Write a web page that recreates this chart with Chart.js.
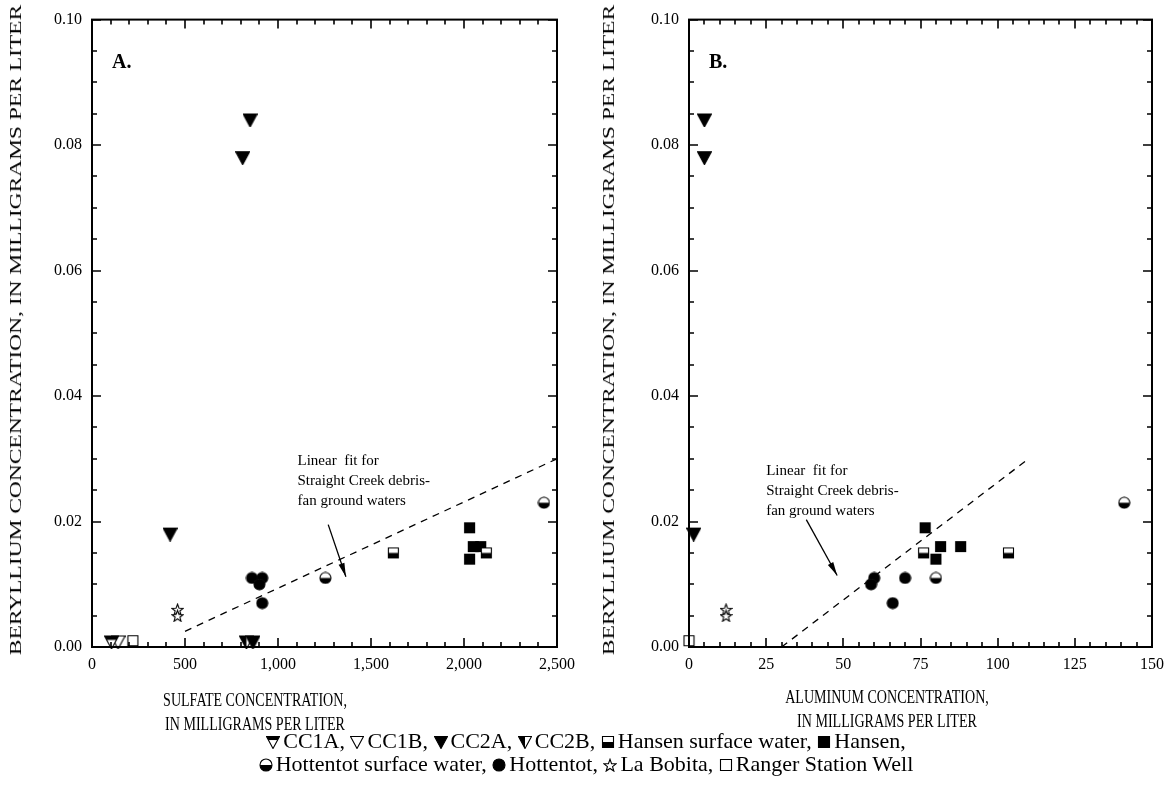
<!DOCTYPE html>
<html>
<head>
<meta charset="utf-8">
<script src="https://cdn.jsdelivr.net/npm/chart.js@4.4.1/dist/chart.umd.min.js"></script>
<style>
  html, body { margin: 0; padding: 0; background: #fff; }
  body { width: 1172px; height: 810px; position: relative; overflow: hidden; font-family: 'Liberation Serif', 'Times New Roman', serif; color: #000; }
  .wrap { position: absolute; top: 0; height: 690px; }
  #wrapA { left: 0; width: 585px; }
  #wrapB { left: 585px; width: 587px; }
  .ytitle { position: absolute; white-space: nowrap; font-size: 17px; transform: translate(-50%, -50%) rotate(-90deg) scaleX(1.38); }
  .xtitle { position: absolute; text-align: center; font-size: 18px; line-height: 24px; transform: translateX(-50%) scaleX(0.78); white-space: nowrap; }
  #legend { position: absolute; left: 0; width: 1172px; top: 729px; text-align: center; font-size: 22px; line-height: 23px; white-space: nowrap; }
  #legend canvas { vertical-align: -1px; margin-right: 3px; }
</style>
</head>
<body>
<div class="wrap" id="wrapA"><canvas id="chartA" width="585" height="690"></canvas></div>
<div class="wrap" id="wrapB"><canvas id="chartB" width="587" height="690"></canvas></div>

<div class="ytitle" style="left:16px; top:330px;">BERYLLIUM CONCENTRATION, IN MILLIGRAMS PER LITER</div>
<div class="ytitle" style="left:609px; top:330px;">BERYLLIUM CONCENTRATION, IN MILLIGRAMS PER LITER</div>
<div class="xtitle" style="left:255px; top:688px;">SULFATE CONCENTRATION,<br>IN MILLIGRAMS PER LITER</div>
<div class="xtitle" style="left:887px; top:685px;">ALUMINUM CONCENTRATION,<br>IN MILLIGRAMS PER LITER</div>
<div id="legend"></div>

<script>
// series, in legend order
const seriesNames = ['CC1A', 'CC1B', 'CC2A', 'CC2B', 'Hansen surface water', 'Hansen',
  'Hottentot surface water', 'Hottentot', 'La Bobita', 'Ranger Station Well'];
const seriesSymbols = ['triTop', 'triOpen', 'triFill', 'triHalf', 'sqHalf', 'sqFill',
  'circHalf', 'circFill', 'star', 'sqOpen'];

// beryllium, sulfate and aluminum, mg/L (null = not plotted)
const cc1aBe = [0.0008], cc1aSulfate = [105], cc1aAl = [null];
const cc1bBe = [0.0008], cc1bSulfate = [140], cc1bAl = [null];
const cc2aBe = [0.084, 0.078, 0.018, 0.0008], cc2aSulfate = [850, 810, 420, 865], cc2aAl = [5, 5, 1.5, null];
const cc2bBe = [0.0008], cc2bSulfate = [830], cc2bAl = [null];
const hansenSwBe = [0.015, 0.015], hansenSwSulfate = [1620, 2120], hansenSwAl = [76, 103.5];
const hansenBe = [0.019, 0.016, 0.016, 0.014], hansenSulfate = [2030, 2050, 2090, 2030], hansenAl = [76.5, 81.5, 88, 80];
const hottSwBe = [0.011, 0.023], hottSwSulfate = [1255, 2430], hottSwAl = [80, 141];
const hottBe = [0.011, 0.011, 0.010, 0.007], hottSulfate = [860, 915, 900, 915], hottAl = [60, 70, 59, 66];
const bobitaBe = [0.006, 0.005], bobitaSulfate = [460, 460], bobitaAl = [12, 12];
const rangerBe = [0.001], rangerSulfate = [220], rangerAl = [0];

const beValues = [cc1aBe, cc1bBe, cc2aBe, cc2bBe, hansenSwBe, hansenBe, hottSwBe, hottBe, bobitaBe, rangerBe];
const sulfateValues = [cc1aSulfate, cc1bSulfate, cc2aSulfate, cc2bSulfate, hansenSwSulfate, hansenSulfate, hottSwSulfate, hottSulfate, bobitaSulfate, rangerSulfate];
const aluminumValues = [cc1aAl, cc1bAl, cc2aAl, cc2bAl, hansenSwAl, hansenAl, hottSwAl, hottAl, bobitaAl, rangerAl];

// linear fits for Straight Creek debris-fan ground waters
const fitSulfate = [500, 2500], fitSulfateBe = [0.0025, 0.030];
const fitAl = [30, 110], fitAlBe = [0, 0.030];

// annotation arrows [x, y] in data units: tail then head
const arrowA = [[1270, 0.0195], [1365, 0.0112]];
const arrowB = [[38, 0.0203], [48, 0.0114]];
const noteLines = ['Linear  fit for', 'Straight Creek debris-', 'fan ground waters'];

const FONT = "'Liberation Serif', 'Times New Roman', serif";

function makeSymbol(kind, size) {
  const s = size || 14;
  const c = document.createElement('canvas');
  c.width = s; c.height = s;
  const g = c.getContext('2d');
  g.strokeStyle = '#000';
  g.lineWidth = 1.1;
  const m = s / 2;
  let path;
  if (kind.startsWith('tri')) {
    path = () => { g.beginPath(); g.moveTo(0.5, 1.5); g.lineTo(s - 0.5, 1.5); g.lineTo(m, s - 0.5); g.closePath(); };
  } else if (kind.startsWith('sq')) {
    path = () => { g.beginPath(); g.rect(1.5, 1.5, s - 3, s - 3); };
  } else if (kind.startsWith('circ')) {
    path = () => { g.beginPath(); g.arc(m, m, m - 1, 0, Math.PI * 2); };
  } else {
    path = () => {
      g.beginPath();
      for (let i = 0; i < 10; i++) {
        const r = i % 2 ? (m - 1) * 0.45 : m - 0.5;
        const a = -Math.PI / 2 + i * Math.PI / 5;
        g.lineTo(m + r * Math.cos(a), m + 0.8 + r * Math.sin(a));
      }
      g.closePath();
    };
  }
  g.fillStyle = '#fff';
  path(); g.fill();
  g.fillStyle = '#000';
  if (kind.endsWith('Fill')) { path(); g.fill(); }
  if (kind === 'triTop') { g.save(); path(); g.clip(); g.fillRect(0, 0, s, s * 0.36); g.restore(); }
  if (kind === 'triHalf') { g.save(); path(); g.clip(); g.fillRect(0, 0, m, s); g.restore(); }
  if (kind === 'sqHalf' || kind === 'circHalf') { g.save(); path(); g.clip(); g.fillRect(0, m, s, s); g.restore(); }
  path(); g.stroke();
  return c;
}

const frameTicks = {
  id: 'frameTicks',
  afterDatasetsDraw(chart) {
    const { ctx, chartArea: a, scales: { x, y } } = chart;
    ctx.save();
    ctx.strokeStyle = '#000';
    ctx.lineWidth = 2;
    ctx.strokeRect(a.left, a.top, a.right - a.left, a.bottom - a.top);
    ctx.lineWidth = 1.6;
    ctx.beginPath();
    x.ticks.forEach((t) => {
      const px = Math.round(x.getPixelForValue(t.value));
      const len = t.label ? 9 : 5;
      ctx.moveTo(px, a.bottom); ctx.lineTo(px, a.bottom - len);
      ctx.moveTo(px, a.top); ctx.lineTo(px, a.top + len);
    });
    y.ticks.forEach((t) => {
      const py = Math.round(y.getPixelForValue(t.value));
      const len = t.label ? 9 : 5;
      ctx.moveTo(a.left, py); ctx.lineTo(a.left + len, py);
      ctx.moveTo(a.right, py); ctx.lineTo(a.right - len, py);
    });
    ctx.stroke();
    ctx.restore();
  }
};

const notes = {
  id: 'notes',
  afterDraw(chart, args, opts) {
    const { ctx, scales: { x, y } } = chart;
    ctx.save();
    ctx.fillStyle = '#000';
    ctx.strokeStyle = '#000';
    // panel tag
    ctx.font = 'bold 20px ' + FONT;
    ctx.textBaseline = 'middle';
    ctx.fillText(opts.tag, chart.chartArea.left + opts.tagDx, 63);
    // note text
    ctx.font = '15px ' + FONT;
    const tx = x.getPixelForValue(opts.noteAt[0]);
    const ty = y.getPixelForValue(opts.noteAt[1]);
    noteLines.forEach((line, i) => ctx.fillText(line, tx, ty + i * 20));
    // arrow
    const [p0, p1] = opts.arrow.map(([vx, vy]) => [x.getPixelForValue(vx), y.getPixelForValue(vy)]);
    ctx.lineWidth = 1.3;
    ctx.beginPath(); ctx.moveTo(p0[0], p0[1]); ctx.lineTo(p1[0], p1[1]); ctx.stroke();
    const ang = Math.atan2(p1[1] - p0[1], p1[0] - p0[0]);
    ctx.beginPath();
    ctx.moveTo(p1[0], p1[1]);
    ctx.lineTo(p1[0] - 14 * Math.cos(ang - 0.22), p1[1] - 14 * Math.sin(ang - 0.22));
    ctx.lineTo(p1[0] - 14 * Math.cos(ang + 0.22), p1[1] - 14 * Math.sin(ang + 0.22));
    ctx.closePath(); ctx.fill();
    ctx.restore();
  }
};

function buildDatasets(xValues, fitX, fitY) {
  const sets = seriesNames.map((name, i) => ({
    label: name,
    data: xValues[i].map((v, j) => ({ x: v, y: beValues[i][j] })).filter((p) => p.x !== null),
    pointStyle: makeSymbol(seriesSymbols[i], seriesSymbols[i].startsWith('tri') ? 15 : 13),
    showLine: false,
    clip: false
  }));
  sets.push({
    label: 'Linear fit',
    data: fitX.map((v, j) => ({ x: v, y: fitY[j] })),
    showLine: true,
    borderColor: '#000',
    borderWidth: 1.3,
    borderDash: [7, 6],
    pointRadius: 0,
    clip: false
  });
  return sets;
}

function makeChart(canvasId, datasets, xMax, xStep, xMajor, yAxisWidth, rightPad, noteOpts) {
  return new Chart(document.getElementById(canvasId), {
    type: 'scatter',
    data: { datasets },
    options: {
      responsive: false,
      animation: false,
      events: [],
      layout: { padding: { left: 0, top: 17, right: rightPad, bottom: 0 } },
      plugins: { legend: { display: false }, tooltip: { enabled: false }, notes: noteOpts },
      scales: {
        x: {
          type: 'linear', min: 0, max: xMax,
          grid: { display: false, drawTicks: false },
          border: { display: false },
          ticks: {
            stepSize: xStep, autoSkip: false, maxRotation: 0, padding: 8, color: '#000',
            font: { family: FONT, size: 16 },
            callback: (v) => (Math.abs(v / xMajor - Math.round(v / xMajor)) < 1e-6 ? Number(v).toLocaleString('en-US') : '')
          },
          afterFit: (s) => { s.height = 43; }
        },
        y: {
          type: 'linear', min: 0, max: 0.1,
          grid: { display: false, drawTicks: false },
          border: { display: false },
          ticks: {
            stepSize: 0.005, autoSkip: false, padding: 10, color: '#000',
            font: { family: FONT, size: 16 },
            callback: (v) => (Math.abs(v / 0.02 - Math.round(v / 0.02)) < 1e-6 ? Number(v).toFixed(2) : '')
          },
          afterFit: (s) => { s.width = yAxisWidth; }
        }
      }
    },
    plugins: [frameTicks, notes]
  });
}

makeChart('chartA', buildDatasets(sulfateValues, fitSulfate, fitSulfateBe), 2500, 100, 500, 92, 28,
  { tag: 'A.', tagDx: 20, noteAt: [1105, 0.0297], arrow: arrowA });
makeChart('chartB', buildDatasets(aluminumValues, fitAl, fitAlBe), 150, 5, 25, 104, 17,
  { tag: 'B.', tagDx: 20, noteAt: [25, 0.0281], arrow: arrowB });

// legend below both panels
const legend = document.getElementById('legend');
const breakAfter = 5;
seriesNames.forEach((name, i) => {
  legend.appendChild(makeSymbol(seriesSymbols[i], 14));
  const last = i === seriesNames.length - 1;
  legend.appendChild(document.createTextNode(name + (last ? '' : ', ')));
  if (i === breakAfter) legend.appendChild(document.createElement('br'));
});
</script>
</body>
</html>
